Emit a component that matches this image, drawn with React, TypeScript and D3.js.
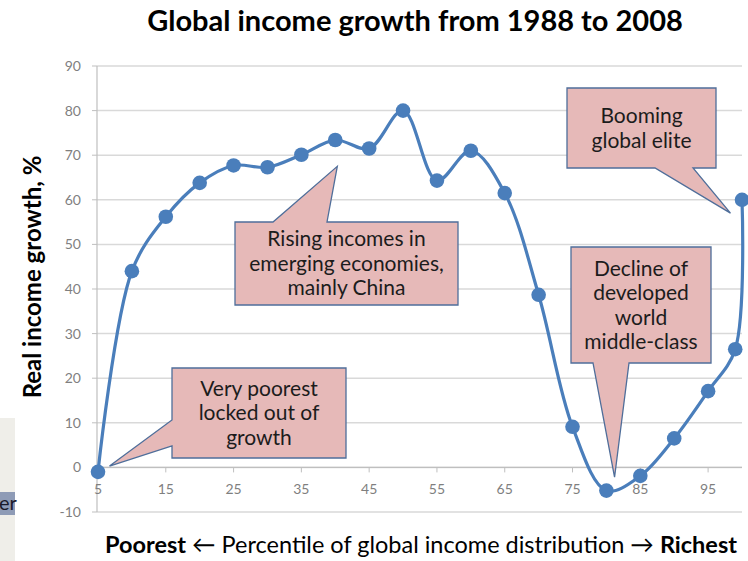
import * as d3 from 'd3';

// percentile of global income distribution (ventiles + top 1%)
const percentiles = [5, 10, 15, 20, 25, 30, 35, 40, 45, 50, 55, 60, 65, 70, 75, 80, 85, 90, 95, 99, 100];
// real income growth 1988-2008, %
const growth = [-1, 44.0, 56.2, 63.8, 67.7, 67.3, 70.1, 73.4, 71.5, 80.0, 64.3, 71.0, 61.5, 38.7, 9.1, -5.2, -1.9, 6.5, 17.1, 26.5, 60.0];

const xTicks = [5, 15, 25, 35, 45, 55, 65, 75, 85, 95];
const yTicks = [-10, 0, 10, 20, 30, 40, 50, 60, 70, 80, 90];

// callouts: tip in data units, box in px, pointer side
const callouts = [
  { lines: ['Rising incomes in', 'emerging economies,', 'mainly China'], tip: [40.3, 67.5], box: [235, 222, 458, 305], side: 'top', base: [273, 327] },
  { lines: ['Booming', 'global elite'], tip: [98.3, 57], box: [567, 88, 716, 168], side: 'bottom', base: [655, 693] },
  { lines: ['Very poorest', 'locked out of', 'growth'], tip: [6.7, 0.3], box: [172, 368, 346, 458], side: 'left', base: [420, 446] },
  { lines: ['Decline of', 'developed', 'world', 'middle-class'], tip: [81.2, -2.2], box: [571, 247, 711, 363], side: 'bottom', base: [593, 629] },
];

const width = 748;
const height = 561;
const font = 'Lato, "Open Sans", sans-serif';

const App = () => {
  const x = d3.scaleLinear().domain([5, 100]).range([98, 742]);
  const y = d3.scaleLinear().domain([-10, 90]).range([512, 66]);

  const pts = percentiles.map((p, i) => [p, growth[i]] as [number, number]);
  const line = d3.line<[number, number]>()
    .x(d => x(d[0]))
    .y(d => y(d[1]))
    .curve(d3.curveCatmullRom.alpha(0.5));

  const calloutPath = (c: any) => {
    const [l, t, r, b] = c.box;
    const tx = x(c.tip[0]);
    const ty = y(c.tip[1]);
    const [b1, b2] = c.base;
    if (c.side === 'top') return `M${l},${t}H${b1}L${tx},${ty}L${b2},${t}H${r}V${b}H${l}Z`;
    if (c.side === 'bottom') return `M${l},${t}H${r}V${b}H${b2}L${tx},${ty}L${b1},${b}H${l}Z`;
    return `M${l},${t}H${r}V${b}H${l}V${b2}L${tx},${ty}L${l},${b1}Z`;
  };

  return (
    <div style={{ position: 'absolute', left: 0, top: 0 }}>
      <svg width={width} height={height} style={{ display: 'block', fontFamily: font }}>
        <rect width={width} height={height} fill="#fff" />

        {/* slide edge leftover */}
        <rect x={0} y={418} width={15} height={143} fill="#efeee9" />
        <rect x={0} y={492} width={15} height={23} fill="#8e9bb6" />
        <text x={-1} y={510} fontSize={20} fill="#1a1a2a">er</text>

        <text x={415} y={31} textAnchor="middle" fontSize={29} fontWeight="bold" fill="#000">
          Global income growth from 1988 to 2008
        </text>

        {/* gridlines */}
        {yTicks.map(t => (
          <line key={t} x1={97} x2={742} y1={y(t)} y2={y(t)} stroke="#d9d9d9" strokeWidth={1.5} />
        ))}
        {/* y axis */}
        <line x1={97} x2={97} y1={y(90)} y2={y(-10)} stroke="#bfbfbf" strokeWidth={1.2} />
        {yTicks.map(t => (
          <g key={t}>
            <line x1={92} x2={97} y1={y(t)} y2={y(t)} stroke="#bfbfbf" />
            <text x={81} y={y(t)} dy="0.35em" textAnchor="end" fontSize={14} fill="#7f7f7f">{t}</text>
          </g>
        ))}
        {/* x axis at zero */}
        <line x1={97} x2={742} y1={y(0)} y2={y(0)} stroke="#bfbfbf" strokeWidth={1.2} />
        {xTicks.map(t => (
          <g key={t}>
            <line x1={x(t)} x2={x(t)} y1={y(0)} y2={y(0) + 5} stroke="#bfbfbf" />
            <text x={x(t)} y={y(0) + 27} textAnchor="middle" fontSize={14} fill="#7f7f7f">{t}</text>
          </g>
        ))}

        <path d={line(pts) || ''} fill="none" stroke="#4a7ebb" strokeWidth={3.2} />
        {pts.map((d, i) => (
          <circle key={i} cx={x(d[0])} cy={y(d[1])} r={7.3} fill="#4a7ebb" />
        ))}

        {callouts.map((c, i) => {
          const [l, t, r, b] = c.box;
          const cx = (l + r) / 2;
          const cy = (t + b) / 2;
          const lh = 24.5;
          return (
            <g key={i}>
              <path d={calloutPath(c)} fill="#e6b9b8" stroke="#4f6e9a" strokeWidth={1.3} />
              {c.lines.map((s, j) => (
                <text key={j} x={cx} y={cy + (j - (c.lines.length - 1) / 2) * lh} dy="0.35em"
                  textAnchor="middle" fontSize={21} fill="#1c1c1c">{s}</text>
              ))}
            </g>
          );
        })}

        <text transform="translate(41,277) rotate(-90)" textAnchor="middle" fontSize={24} fontWeight="bold" fill="#000">
          Real income growth, %
        </text>

        <text x={421} y={553} textAnchor="middle" fontSize={23.5} fill="#000">
          <tspan fontWeight="bold">Poorest</tspan>
          <tspan> ← Percentile of global income distribution → </tspan>
          <tspan fontWeight="bold">Richest</tspan>
        </text>
      </svg>
    </div>
  );
};

export default App;
